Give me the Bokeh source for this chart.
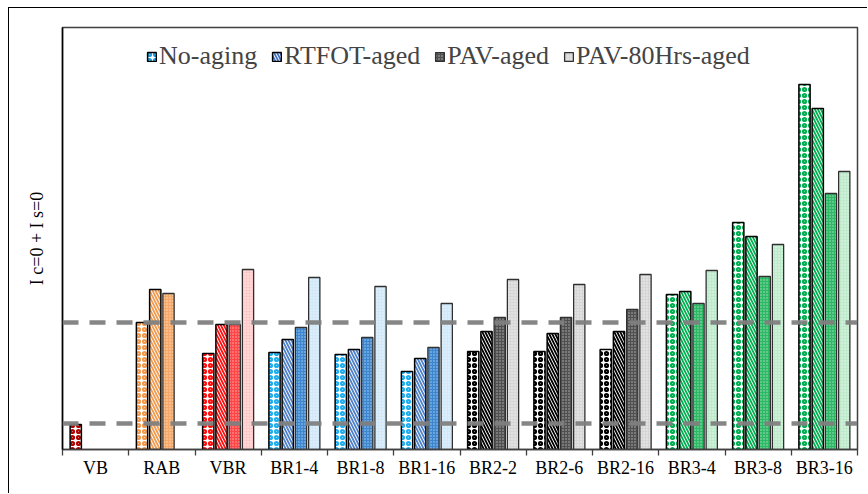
from bokeh.plotting import figure
from bokeh.models import (ColumnDataSource, Range1d, FixedTicker, CustomJSTickFormatter,
                          Span, Legend, LegendItem)
from bokeh.embed import file_html
from bokeh.resources import INLINE

categories = ["VB", "RAB", "VBR", "BR1-4", "BR1-8", "BR1-16",
              "BR2-2", "BR2-6", "BR2-16", "BR3-4", "BR3-8", "BR3-16"]
series_names = ["No-aging", "RTFOT-aged", "PAV-aged", "PAV-80Hrs-aged"]

no_aging = [0.25, 1.27, 0.96, 0.97, 0.95, 0.78, 0.98, 0.98, 1.00, 1.55, 2.27, 3.65]
rtfot    = [None, 1.60, 1.25, 1.10, 1.00, 0.91, 1.18, 1.16, 1.18, 1.58, 2.13, 3.41]
pav      = [None, 1.56, 1.25, 1.22, 1.12, 1.02, 1.32, 1.32, 1.40, 1.46, 1.73, 2.56]
pav80    = [None, None, 1.80, 1.72, 1.63, 1.46, 1.70, 1.65, 1.75, 1.79, 2.05, 2.78]

threshold_high = 1.27
threshold_low = 0.26

no_aging_colors = ["#B00000", "#F39A4E", "#FF1010", "#1EAEEE", "#1EAEEE", "#1EAEEE",
                   "#000000", "#000000", "#000000", "#00B050", "#00B050", "#00B050"]
rtfot_colors    = ["#C00000", "#F39A4E", "#FF1010", "#4F81C8", "#4F81C8", "#4F81C8",
                   "#000000", "#000000", "#000000", "#00B050", "#00B050", "#00B050"]
pav_colors      = ["#C00000", "#F6A868", "#FF4545", "#3C86D0", "#3C86D0", "#3C86D0",
                   "#505050", "#505050", "#505050", "#2DB865", "#2DB865", "#2DB865"]
pav80_colors    = ["#FFFFFF", "#FFFFFF", "#FFC8C8", "#D0E8F8", "#D0E8F8", "#D0E8F8",
                   "#D6D6D6", "#D6D6D6", "#D6D6D6", "#BDEACB", "#BDEACB", "#BDEACB"]

legend_colors = ["#1E9BE0", "#4472C4", "#505050", "#D6D6D6"]

offsets = [-0.3, -0.1, 0.1, 0.3]
bar_width = 0.17
serif = "Liberation Serif"

p = figure(width=859, height=486, x_range=Range1d(0, 12), y_range=Range1d(0, 4.22),
           output_backend="svg", toolbar_location=None,
           min_border_left=53, min_border_right=11, min_border_top=19, min_border_bottom=45)
p.xgrid.visible = False
p.ygrid.visible = False
p.outline_line_color = "#404040"
p.outline_line_width = 1.5
p.background_fill_color = "white"
p.border_fill_color = "white"
p.styles = {"margin-left": "8px", "margin-top": "7px",
            "border-top": "1px solid black", "border-left": "1px solid black"}

all_values = [no_aging, rtfot, pav, pav80]
all_colors = [no_aging_colors, rtfot_colors, pav_colors, pav80_colors]

def draw_series(k, xs, tops, cols):
    src = ColumnDataSource(dict(x=xs, top=tops, color=cols))
    if k == 0:
        return p.vbar(x="x", top="top", width=bar_width, source=src,
                      fill_color="white", hatch_color="color", hatch_pattern="ring",
                      hatch_scale=6, hatch_weight=2.2,
                      line_color="black", line_width=1.5)
    if k == 1:
        return p.vbar(x="x", top="top", width=bar_width, source=src,
                      fill_color="white", hatch_color="color",
                      hatch_pattern="left_diagonal_line",
                      hatch_scale=6, hatch_weight=1.8,
                      line_color="black", line_width=1.5)
    if k == 2:
        return p.vbar(x="x", top="top", width=bar_width, source=src,
                      fill_color="color", hatch_color="white", hatch_pattern="dot",
                      hatch_scale=3, hatch_weight=0.5, hatch_alpha=0.6,
                      line_color="#303030", line_width=1.3)
    return p.vbar(x="x", top="top", width=bar_width, source=src,
                  fill_color="color", hatch_color="white", hatch_pattern="dot",
                  hatch_scale=3, hatch_weight=0.5, hatch_alpha=0.7,
                  line_color="#303030", line_width=1.3)

for k, vals in enumerate(all_values):
    xs, tops, cols = [], [], []
    for i, v in enumerate(vals):
        if v is None:
            continue
        xs.append(i + 0.5 + offsets[k])
        tops.append(v)
        cols.append(all_colors[k][i])
    draw_series(k, xs, tops, cols)

# legend-only renderers (NaN x so nothing is drawn in the plot)
legend_items = []
for k, name in enumerate(series_names):
    r = draw_series(k, [float("nan")], [0.0], [legend_colors[k]])
    legend_items.append(LegendItem(label=name, renderers=[r]))

for loc in (threshold_high, threshold_low):
    p.add_layout(Span(location=loc, dimension="width", line_color="#7F7F7F",
                      line_width=4.5, line_dash="16 11", line_alpha=0.95))

legend = Legend(items=legend_items, orientation="horizontal", location=(84, 378),
                label_text_font=serif, label_text_font_size="26px",
                glyph_width=11, glyph_height=11, label_height=26, label_standoff=2,
                spacing=14, padding=0, margin=0, border_line_color=None,
                background_fill_alpha=0)
p.add_layout(legend, "center")

# x axis: labels at category centres, ticks at boundaries
p.xaxis.ticker = FixedTicker(ticks=[i + 0.5 for i in range(len(categories))],
                             minor_ticks=list(range(len(categories) + 1)))
p.xaxis.formatter = CustomJSTickFormatter(args=dict(names=categories),
                                          code="return names[Math.floor(tick)];")
p.xaxis.major_tick_line_color = None
p.xaxis.minor_tick_line_color = "#404040"
p.xaxis.minor_tick_line_width = 1.3
p.xaxis.minor_tick_in = 0
p.xaxis.minor_tick_out = 6
p.xaxis.axis_line_color = "#404040"
p.xaxis.axis_line_width = 1.5
p.xaxis.major_label_text_font = serif
p.xaxis.major_label_text_font_size = "18px"
p.xaxis.major_label_text_color = "black"
p.xaxis.major_label_standoff = 2

p.yaxis.ticker = FixedTicker(ticks=[])
p.yaxis.major_tick_line_color = None
p.yaxis.minor_tick_line_color = None
p.yaxis.major_label_text_font_size = "0px"
p.yaxis.axis_label = "I c=0 + I s=0"
p.yaxis.axis_line_color = "black"
p.yaxis.axis_line_width = 1.5
p.yaxis.axis_label_text_font = serif
p.yaxis.axis_label_text_font_style = "normal"
p.yaxis.axis_label_text_font_size = "18px"
p.yaxis.axis_label_text_color = "black"
p.yaxis.axis_label_standoff = 16

open("out.html", "w").write(file_html(p, INLINE))
